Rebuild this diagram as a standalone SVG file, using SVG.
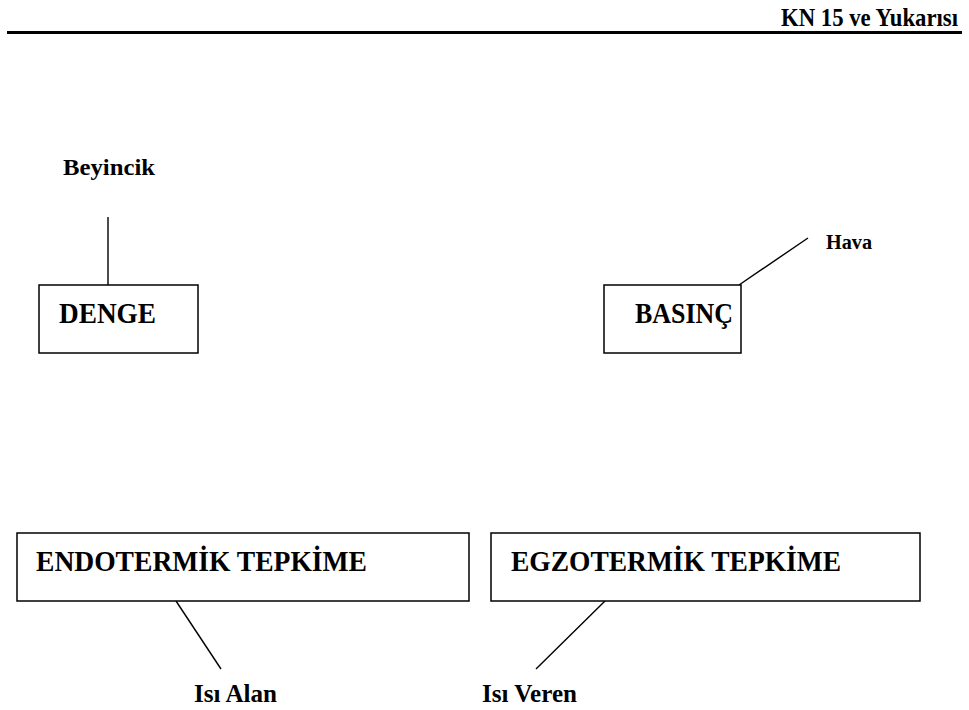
<svg xmlns="http://www.w3.org/2000/svg" width="969" height="710" viewBox="0 0 969 710">
  <style>
    text { font-family: "Liberation Serif", "Times New Roman", serif; font-weight: bold; fill: #000; }
    .box { fill: #fff; stroke: #000; stroke-width: 1.5; }
    .link { stroke: #000; stroke-width: 1.4; fill: none; }
    .big { font-size: 29.5px; }
  </style>
  <rect width="969" height="710" fill="#fff"/>

  <!-- page header -->
  <g id="header">
    <text x="781" y="26" font-size="26" textLength="177" lengthAdjust="spacingAndGlyphs">KN 15 ve Yukarısı</text>
    <rect x="7" y="31" width="955" height="3" fill="#000"/>
  </g>

  <!-- connectors -->
  <g id="connectors">
    <line class="link" x1="108" y1="217" x2="108" y2="285"/>
    <line class="link" x1="739" y1="285" x2="808" y2="238"/>
    <line class="link" x1="176" y1="601" x2="221" y2="669"/>
    <line class="link" x1="605" y1="601" x2="536" y2="669"/>
  </g>

  <g id="denge">
    <rect class="box" x="39" y="285" width="159" height="68"/>
    <text class="big" x="59" y="323" textLength="97" lengthAdjust="spacingAndGlyphs">DENGE</text>
  </g>
  <g id="beyincik">
    <text x="63" y="175" font-size="23.5" textLength="92" lengthAdjust="spacingAndGlyphs">Beyincik</text>
  </g>

  <g id="basinc">
    <rect class="box" x="604" y="285" width="137" height="68"/>
    <text class="big" x="635" y="323" textLength="98" lengthAdjust="spacingAndGlyphs">BASINÇ</text>
  </g>
  <g id="hava">
    <text x="826" y="249" font-size="20.5" textLength="46" lengthAdjust="spacingAndGlyphs">Hava</text>
  </g>

  <g id="endotermik">
    <rect class="box" x="17" y="533" width="452" height="68"/>
    <text class="big" x="36" y="571" textLength="331" lengthAdjust="spacingAndGlyphs">ENDOTERMİK TEPKİME</text>
  </g>
  <g id="isi-alan">
    <text x="194" y="702" font-size="24.5" textLength="83" lengthAdjust="spacingAndGlyphs">Isı Alan</text>
  </g>

  <g id="egzotermik">
    <rect class="box" x="491" y="533" width="429" height="68"/>
    <text class="big" x="511" y="571" textLength="330" lengthAdjust="spacingAndGlyphs">EGZOTERMİK TEPKİME</text>
  </g>
  <g id="isi-veren">
    <text x="482" y="702" font-size="24.5" textLength="95" lengthAdjust="spacingAndGlyphs">Isı Veren</text>
  </g>
</svg>
